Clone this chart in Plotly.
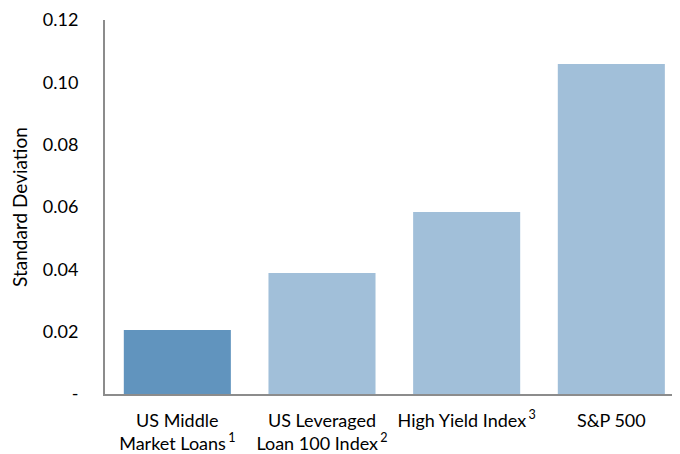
import plotly.graph_objects as go

categories = ["US Middle<br>Market Loans\u2009<sup>1</sup>",
              "US Leveraged<br>Loan 100 Index\u2009<sup>2</sup>",
              "High Yield Index\u2009<sup>3</sup>",
              "S&P 500"]
std_dev = [0.0205, 0.0388, 0.0584, 0.1059]
bar_colors = ["#6194BE", "#A1BFD9", "#A1BFD9", "#A1BFD9"]
y_tickvals = [0, 0.02, 0.04, 0.06, 0.08, 0.10, 0.12]
y_ticktext = ["-", "0.02", "0.04", "0.06", "0.08", "0.10", "0.12"]

fig = go.Figure(go.Bar(
    x=list(range(len(categories))),
    y=std_dev,
    marker=dict(color=bar_colors, line=dict(width=0)),
    width=0.74,
))

font_family = "Lato, 'Open Sans', sans-serif"

fig.update_layout(
    width=680, height=454,
    margin=dict(l=97, r=0, t=12, b=68),
    paper_bgcolor="white", plot_bgcolor="white",
    showlegend=False,
    font=dict(family=font_family, size=18, color="#000000"),
)
fig.update_xaxes(
    range=[-0.5, 3.53],
    tickvals=list(range(len(categories))),
    ticktext=categories,
    showline=True, linecolor="#8c8c8c", linewidth=2,
    showgrid=False, zeroline=False, ticks="",
    automargin=False,
    ticklabelstandoff=9,
    tickfont=dict(size=18, family=font_family),
)
fig.update_yaxes(
    range=[0, 0.12],
    tickvals=y_tickvals, ticktext=y_ticktext,
    showline=True, linecolor="#8c8c8c", linewidth=2,
    showgrid=False, zeroline=False, ticks="",
    automargin=False,
    ticklabelstandoff=21,
    tickfont=dict(size=18, family=font_family),
    title=dict(text="Standard Deviation", font=dict(size=19, family=font_family), standoff=12),
)

fig.write_html("out.html")
